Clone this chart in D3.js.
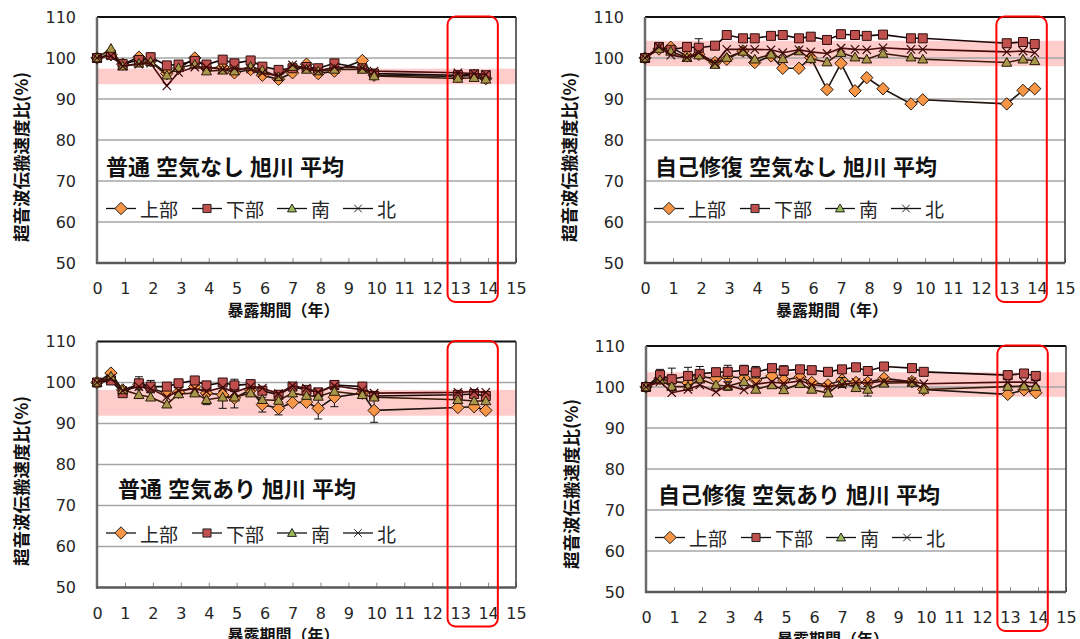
<!DOCTYPE html>
<html><head><meta charset="utf-8">
<script src="https://cdn.jsdelivr.net/npm/d3@7"></script>
<style>body{margin:0;background:#fff;}svg{display:block;}</style>
</head><body>
<svg id="c" width="1080" height="639"></svg>
<script>
// ---------- data ----------
const years = [0,0.5,0.92,1.5,1.92,2.5,2.92,3.5,3.92,4.5,4.92,5.5,5.92,6.5,7,7.5,7.92,8.5,9.5,9.92,12.92,13.5,13.92];
const seriesNames = ["上部","下部","南","北"];
const yTickValues = [50,60,70,80,90,100,110];
const xTickValues = [0,1,2,3,4,5,6,7,8,9,10,11,12,13,14,15];
const yAxisTitle = "超音波伝搬速度比(%)";
const xAxisTitle = "暴露期間（年）";
const panelTitles = ["普通 空気なし 旭川 平均","自己修復 空気なし 旭川 平均","普通 空気あり 旭川 平均","自己修復 空気あり 旭川 平均"];
const highlightYears = [12.55, 14.35];

// top-left
const tlUpper = [100,100.8,98.5,100.2,99.3,96.2,97.5,100.0,97.5,97.8,96.4,97.2,95.8,94.8,96.4,98.5,96.2,96.8,99.4,95.8,95.5,95.8,95.0];
const tlLower = [100,100.8,98.5,99.5,100.2,98.2,98.4,99.3,98.4,99.6,98.7,99.4,97.9,97.1,97.5,97.8,97.5,98.7,97.5,96.2,95.8,96.0,95.8];
const tlSouth = [100,102.3,98.0,98.7,99.1,95.8,97.6,98.4,96.8,97.0,96.8,97.9,97.0,95.4,97.9,97.2,96.8,97.2,97.2,95.6,95.0,95.2,94.8];
const tlNorth = [100,100.5,98.0,98.5,98.7,93.2,96.5,97.8,97.8,97.2,97.5,97.3,96.4,95.6,98.3,97.5,96.8,97.8,97.5,96.8,96.4,96.2,96.0];
const tlBand = [93.6, 97.4];

// top-right
const trUpper = [100,102.2,102.6,100.5,100.9,98.9,99.7,101.7,98.9,100.5,97.5,97.5,100.1,92.3,98.7,92.0,95.2,92.5,88.8,89.8,88.8,92.1,92.5];
const trLower = [100,102.7,102.0,102.7,102.5,103.0,105.6,104.8,104.8,105.4,105.6,104.8,105.2,104.4,105.8,105.6,105.4,105.7,104.8,104.8,103.6,103.9,103.4];
const trSouth = [100,102.3,101.6,100.1,100.7,98.4,100.1,101.6,99.7,100.9,99.8,101.7,99.8,99.0,101.3,100.2,99.7,101.1,100.2,99.7,98.9,99.7,99.3];
const trNorth = [100,102.7,100.7,100.1,101.3,98.7,102.1,102.1,102.1,102.0,101.3,102.0,101.5,101.1,102.4,102.1,102.0,102.5,102.1,102.1,101.5,101.7,101.3];
const trLowerErr = [0,0,0,0,2.2,0,0,0,0,0,0,0,0,0,0,0,0,0,0,0,0,0,0];
const trBand = [98.0, 104.2];

// bottom-left
const blUpper = [100,102.3,98.2,99.5,98.6,97.4,97.6,99.0,97.4,97.0,96.2,98.2,94.6,93.7,95.1,95.2,93.7,96.4,97.4,93.2,93.9,94.1,93.2];
const blLower = [100,100.5,97.4,99.8,99.0,99.0,99.8,100.5,99.3,100.0,99.3,99.6,98.0,97.0,99.0,98.2,97.6,99.4,99.0,96.7,97.0,97.2,96.7];
const blSouth = [100,101.5,98.2,97.0,96.4,94.7,97.2,97.4,95.8,96.4,96.4,97.4,95.8,95.6,97.4,96.8,96.6,97.8,97.0,96.4,95.8,95.5,95.5];
const blNorth = [100,101.0,98.0,99.0,98.5,96.5,98.0,98.5,97.8,98.8,97.6,99.0,98.6,97.3,99.2,98.6,97.6,99.2,98.2,97.4,97.6,97.8,97.6];
const blUpperErr = [0,0,0,0,0,0,0,0,2.8,3.3,2.4,0,1.8,1.6,0,0,2.6,2.3,0,2.9,0,0,0];
const blLowerErr = [0,0,0,1.6,1.5,0,0,0,0,0,1.5,0,0,0,0,0,0,1.0,0,0,0,0,0];
const blBand = [91.9, 98.2];

// bottom-right
const brUpper = [100,102.1,101.3,101.0,102.5,102.1,102.5,102.2,101.7,102.7,101.7,102.4,101.1,100.5,101.7,101.1,101.1,102.1,101.3,99.4,98.2,99.3,98.6];
const brLower = [100,102.9,101.9,102.7,103.2,103.6,103.7,104.1,103.6,104.6,104.0,104.3,104.1,103.7,104.3,104.8,103.9,105.0,104.6,103.7,102.9,103.3,102.7];
const brSouth = [100,101.7,100.1,100.1,101.9,100.5,100.2,101.3,99.4,100.5,99.3,100.8,99.4,98.5,101.1,99.8,99.4,100.9,101.1,99.4,100.1,100.2,100.1];
const brNorth = [100,101.3,98.6,99.4,100.5,98.8,100.4,99.3,100.7,101.2,100.9,101.5,100.6,100.1,100.6,101.1,101.0,101.4,101.3,100.8,101.2,101.2,101.0];
const brLowerErr = [0,1.4,2.7,2.1,1.8,1.0,1.6,1.2,1.4,0,1.2,0,0,0,0,0,0,0,0,0,0,0,0];
const brSouthErr = [0,0,0,0,0,0,1.0,0,0,0,0,0,0,0,1.2,0,1.6,0,0,0,0,0,0];
const brBand = [97.6, 103.6];

// ---------- styles ----------
const numFont = "'DejaVu Sans', Verdana, sans-serif";
const jpFont = "'Noto Sans CJK JP', 'Noto Sans', sans-serif";
const seriesStyle = [
  {shape:"diamond", fill:"#F79646", stroke:"#2b1a10", line:"#1e1410", legendFill:"#F79646"},
  {shape:"square",  fill:"#C0504D", stroke:"#2a0c0c", line:"#1a0808", legendFill:"#C0504D"},
  {shape:"triangle",fill:"#A8964A", stroke:"#2a1a08", line:"#3a1a08", legendFill:"#9BBB59"},
  {shape:"x",       fill:"none",    stroke:"#3a0808", line:"#4a0c0c", legendFill:"none"}
];
function markerPath(shape, s) {
  if (shape === "diamond") { const r = s*0.62; return `M0,${-r}L${r},0L0,${r}L${-r},0Z`; }
  if (shape === "square") { const r = s*0.45; return `M${-r},${-r}H${r}V${r}H${-r}Z`; }
  if (shape === "triangle") { const r = s*0.5; return `M0,${-r}L${r},${r*0.75}L${-r},${r*0.75}Z`; }
  const r = s*0.42; return `M${-r},${-r}L${r},${r}M${r},${-r}L${-r},${r}`;
}

const svg = d3.select("#c");

const panels = [
  {left:97, right:516, top:17, bottom:263, series:[tlUpper,tlLower,tlSouth,tlNorth], errs:[null,null,null,null], band:tlBand,
   title:panelTitles[0], titleX:106, titleY:165, yTitleX:20, yTitleY:157},
  {left:645, right:1065, top:17, bottom:263, series:[trUpper,trLower,trSouth,trNorth], errs:[null,trLowerErr,null,null], band:trBand,
   title:panelTitles[1], titleX:655, titleY:165, yTitleX:568, yTitleY:157},
  {left:97, right:516, top:341.5, bottom:587.5, series:[blUpper,blLower,blSouth,blNorth], errs:[blUpperErr,blLowerErr,null,null], band:blBand,
   title:panelTitles[2], titleX:118, titleY:487, yTitleX:20, yTitleY:481},
  {left:646, right:1066, top:346, bottom:592, series:[brUpper,brLower,brSouth,brNorth], errs:[null,brLowerErr,brSouthErr,null], band:brBand,
   title:panelTitles[3], titleX:658, titleY:493, yTitleX:570, yTitleY:484}
];
const legendOffsets = [9, 95, 180, 246];

panels.forEach(p => {
  const g = svg.append("g");
  const x = d3.scaleLinear().domain([0,15]).range([p.left, p.right]);
  const y = d3.scaleLinear().domain([50,110]).range([p.bottom, p.top]);

  // band
  g.append("rect").attr("x", x(0)).attr("width", x(15)-x(0))
    .attr("y", y(p.band[1])).attr("height", y(p.band[0]) - y(p.band[1]))
    .attr("fill", "#FFCCCC");

  // gridlines
  g.selectAll(".grid").data(yTickValues.filter(v => v > 50 && v < 110)).enter()
    .append("line").attr("x1", x(0)).attr("x2", x(15))
    .attr("y1", d => y(d)).attr("y2", d => y(d))
    .attr("stroke", "#a6a6a6").attr("stroke-width", 1.5);

  // y axis labels
  const ya = g.append("g").attr("transform", `translate(${x(0)},0)`)
    .call(d3.axisLeft(y).tickValues(yTickValues).tickSize(0).tickPadding(21).tickFormat(d3.format("d")));
  ya.select(".domain").remove();
  ya.selectAll("text").attr("font-family", numFont).attr("font-size", 16).attr("fill", "#262626");

  // x axis
  const xa = g.append("g").attr("transform", `translate(0,${y(50)})`)
    .call(d3.axisBottom(x).tickValues(xTickValues).tickSize(-5).tickPadding(20).tickFormat(d3.format("d")));
  xa.select(".domain").remove();
  xa.selectAll("line").attr("stroke", "#8c8c8c").attr("stroke-width", 1);
  xa.selectAll("text").attr("font-family", numFont).attr("font-size", 16).attr("fill", "#262626");

  // frame
  g.append("line").attr("x1", x(0)).attr("x2", x(15)).attr("y1", y(110)).attr("y2", y(110)).attr("stroke", "#111").attr("stroke-width", 2);
  g.append("line").attr("x1", x(15)).attr("x2", x(15)).attr("y1", y(110)).attr("y2", y(50)).attr("stroke", "#333").attr("stroke-width", 1.5);
  g.append("line").attr("x1", x(0)).attr("x2", x(0)).attr("y1", y(110)).attr("y2", y(50)+1).attr("stroke", "#6b6b6b").attr("stroke-width", 2.5);
  g.append("line").attr("x1", x(0)-1).attr("x2", x(15)).attr("y1", y(50)).attr("y2", y(50)).attr("stroke", "#595959").attr("stroke-width", 2.5);

  // series
  const line = d3.line().x((d,i) => x(years[i])).y(d => y(d));
  p.series.forEach((vals, si) => {
    const st = seriesStyle[si];
    const sg = g.append("g");
    sg.append("path").attr("d", line(vals)).attr("fill", "none")
      .attr("stroke", st.line).attr("stroke-width", 1.6);
    const err = p.errs[si];
    if (err) {
      err.forEach((e, i) => {
        if (!e) return;
        const cx = x(years[i]);
        sg.append("path")
          .attr("d", `M${cx},${y(vals[i]-e)}V${y(vals[i]+e)}M${cx-4},${y(vals[i]-e)}H${cx+4}M${cx-4},${y(vals[i]+e)}H${cx+4}`)
          .attr("stroke", "#111").attr("stroke-width", 1).attr("fill", "none");
      });
    }
    sg.selectAll(".m").data(vals).enter().append("path")
      .attr("transform", (d,i) => `translate(${x(years[i])},${y(d)})`)
      .attr("d", markerPath(st.shape, 10))
      .attr("fill", st.fill).attr("stroke", st.stroke)
      .attr("stroke-width", st.shape === "x" ? 1.2 : 1);
  });

  // highlight box
  g.append("rect").attr("x", x(highlightYears[0])).attr("width", x(highlightYears[1]) - x(highlightYears[0]))
    .attr("y", y(110) - 0.5).attr("height", y(50) - y(110) + 39.5)
    .attr("rx", 8).attr("ry", 8).attr("fill", "none").attr("stroke", "#FF0000").attr("stroke-width", 2);

  // panel title
  g.append("text").attr("x", p.titleX).attr("y", p.titleY).attr("dominant-baseline", "central")
    .attr("font-family", jpFont).attr("font-weight", "bold").attr("font-size", 22)
    .style("word-spacing", "1px").attr("fill", "#111").text(p.title);

  // legend
  const ly = y(110) + 191.5;
  seriesNames.forEach((name, si) => {
    const st = seriesStyle[si];
    const lx = x(0) + legendOffsets[si];
    g.append("line").attr("x1", lx).attr("x2", lx + 30).attr("y1", ly).attr("y2", ly)
      .attr("stroke", "#111").attr("stroke-width", 1.3);
    g.append("path").attr("transform", `translate(${lx + 15},${ly})`)
      .attr("d", markerPath(st.shape, st.shape === "diamond" ? 10 : 9))
      .attr("fill", st.legendFill).attr("stroke", "#222").attr("stroke-width", 1);
    g.append("text").attr("x", lx + 34).attr("y", ly).attr("dominant-baseline", "central")
      .attr("font-family", jpFont).attr("font-size", 19).attr("fill", "#262626").text(name);
  });

  // y axis title
  g.append("text").attr("transform", `translate(${p.yTitleX},${p.yTitleY}) rotate(-90)`)
    .attr("text-anchor", "middle").attr("dominant-baseline", "central")
    .attr("font-family", jpFont).attr("font-weight", "bold").attr("font-size", 17.5).attr("fill", "#111")
    .text(yAxisTitle);

  // x axis title
  g.append("text").attr("x", (x(0) + x(15)) / 2 - 23).attr("y", y(50) + 46).attr("text-anchor", "middle")
    .attr("dominant-baseline", "central")
    .attr("font-family", jpFont).attr("font-weight", "bold").attr("font-size", 16).attr("fill", "#111")
    .text(xAxisTitle);
});
</script>
</body></html>
